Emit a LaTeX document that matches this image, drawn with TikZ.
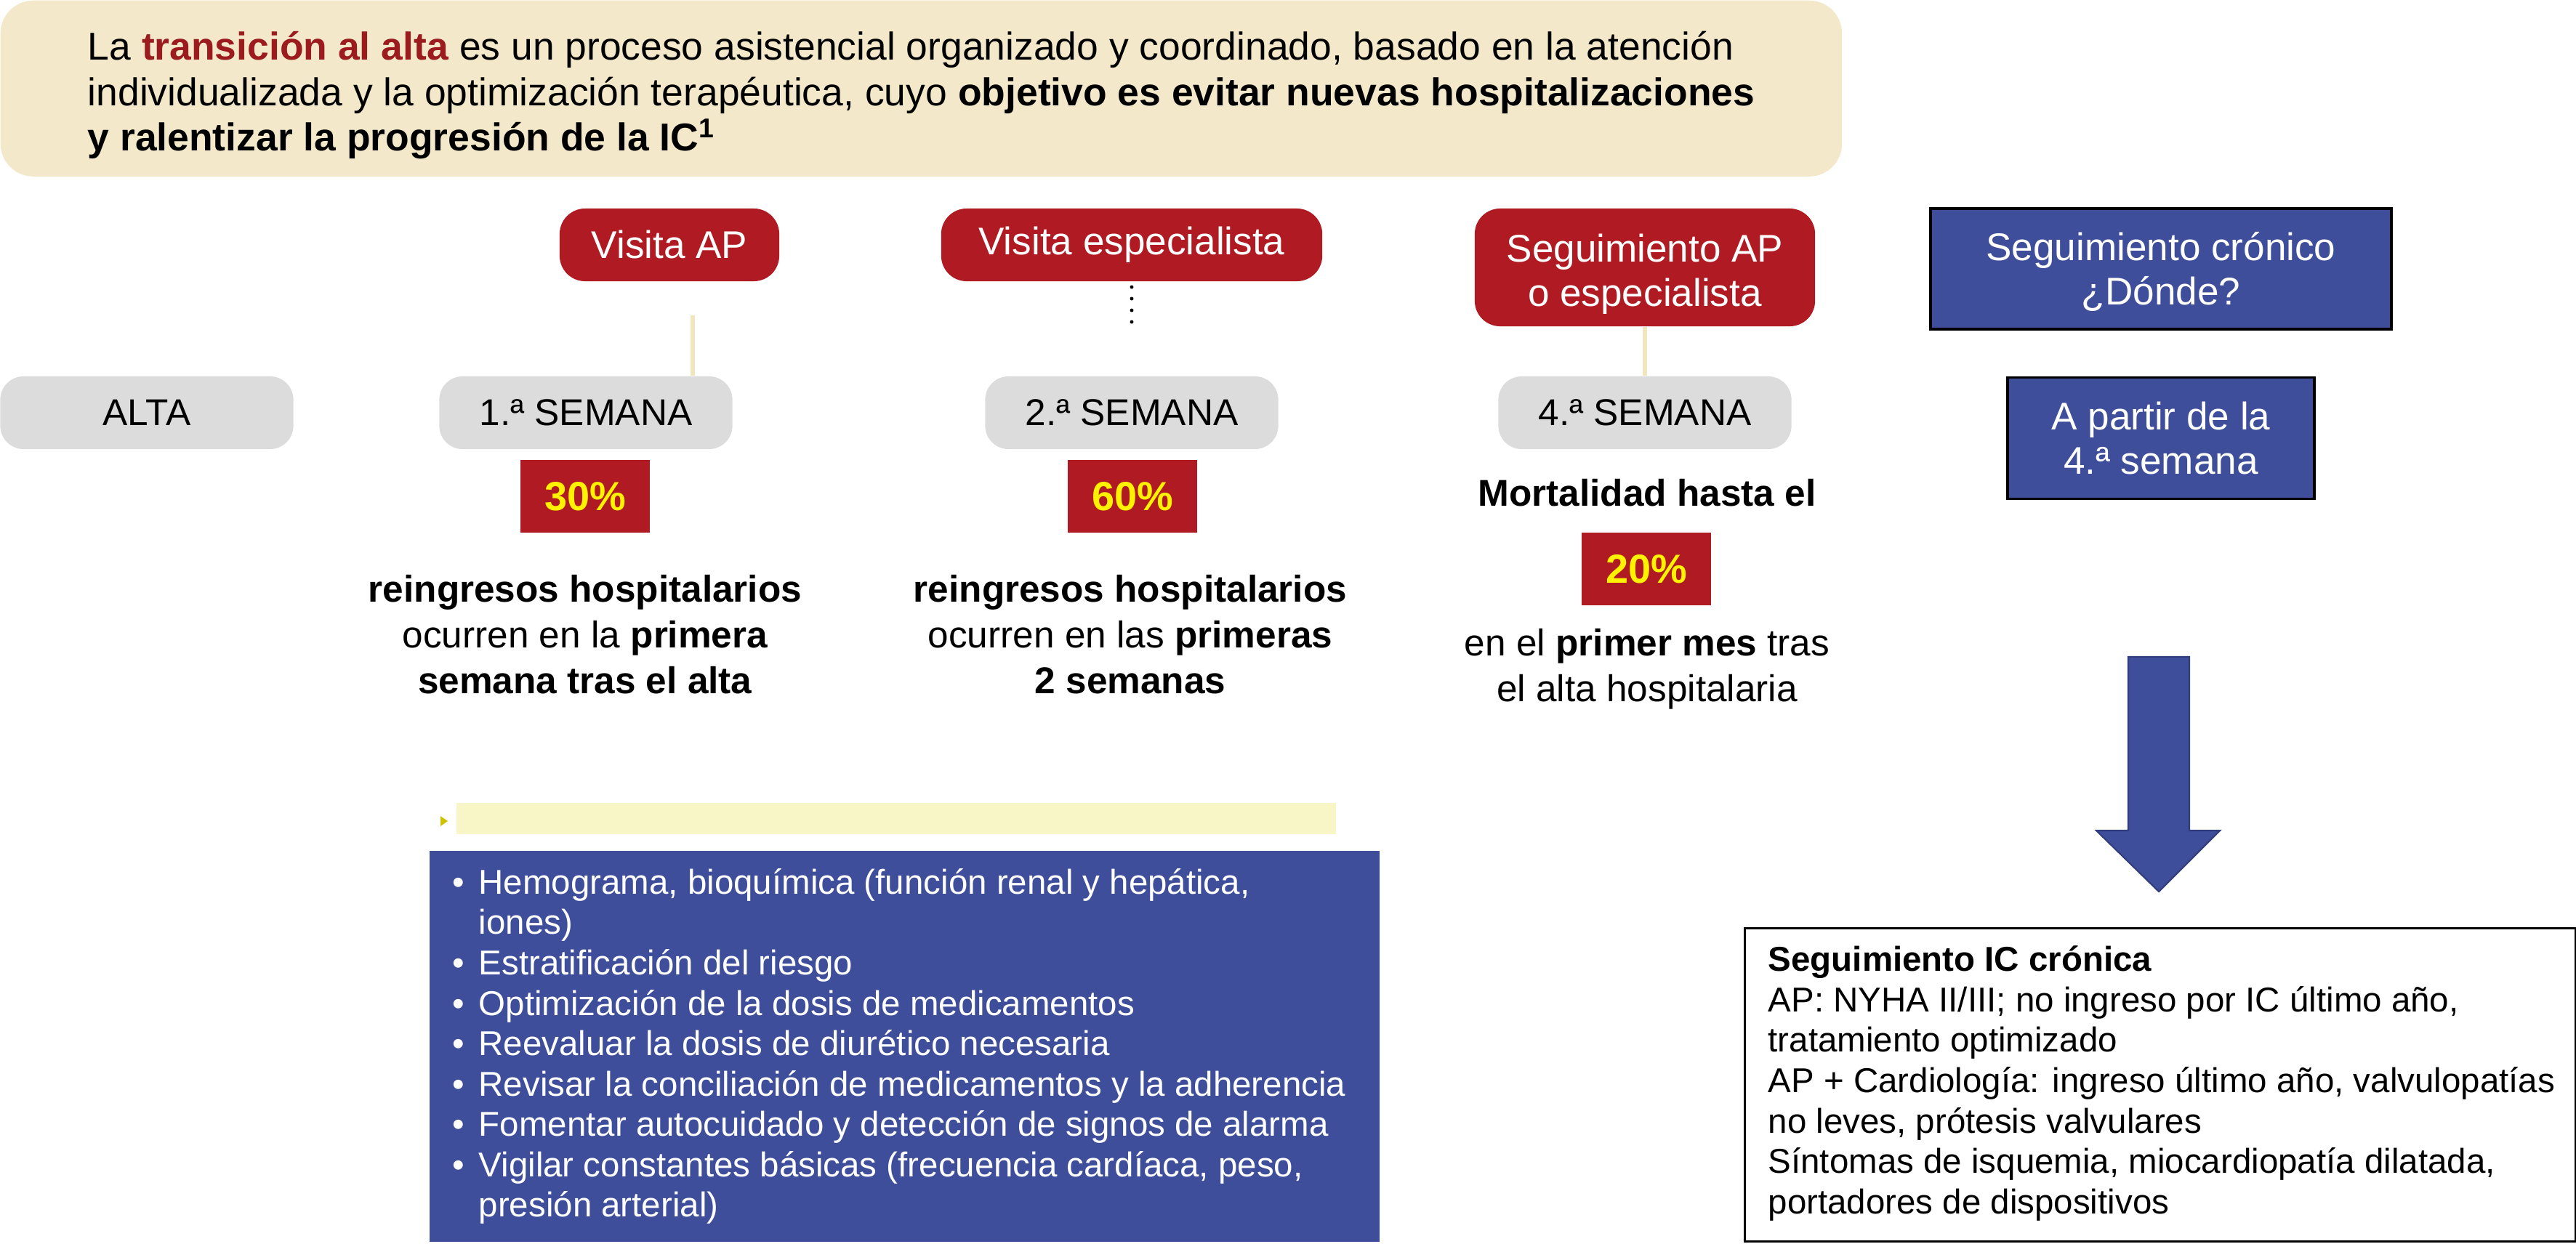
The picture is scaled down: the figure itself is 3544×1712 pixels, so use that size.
\documentclass[tikz,border=0pt]{standalone}
\usepackage{fontspec}
\setmainfont{Liberation Sans}
\usetikzlibrary{calc}
\definecolor{boxred}{HTML}{B01A22}
\definecolor{darkred}{HTML}{9B1B1F}
\definecolor{pillgray}{HTML}{DCDCDC}
\definecolor{banner}{HTML}{F3E9CA}
\definecolor{connbeige}{HTML}{F2E6BE}
\definecolor{boxblue}{HTML}{3F4E9A}
\definecolor{pctyellow}{HTML}{FFF200}
\definecolor{paleyellow}{HTML}{F8F6C6}
\tikzset{
  pill/.style={rectangle, rounded corners=0.32cm, fill=pillgray, inner sep=0pt,
    minimum width=4.03cm, minimum height=1.0cm, font=\fontsize{14.6}{17.4}\selectfont},
  redbox/.style={rectangle, rounded corners=0.35cm, fill=boxred, text=white, inner sep=0pt,
    minimum height=1.0cm, align=center, font=\fontsize{15.1}{17.4}\selectfont},
  boxtext/.style={text=white, inner sep=0pt, align=center, font=\fontsize{15.1}{17.4}\selectfont},
  bluebox/.style={rectangle, fill=boxblue, draw=black, line width=1.1pt, text=white, inner sep=0pt,
    align=center, font=\fontsize{15.1}{17.4}\selectfont},
  pctbox/.style={rectangle, fill=boxred, text=pctyellow, inner sep=0pt,
    minimum width=1.78cm, minimum height=0.99cm, font=\fontsize{15.9}{18}\selectfont\bfseries},
  desc/.style={align=center, inner sep=0pt, font=\fontsize{14.6}{17.9}\selectfont},
  conn/.style={draw=connbeige, line width=1.7pt},
}
\begin{document}
\begin{tikzpicture}[x=0.01cm,y=-0.01cm]
\useasboundingbox (0,0) rectangle (3544,1712);

% banner
\node[rectangle, rounded corners=0.45cm, fill=banner, minimum width=25.32cm, minimum height=2.42cm,
  anchor=north west, inner sep=0pt] (banner) at (0,0) {};
\node[anchor=west, align=left, inner sep=0pt, font=\fontsize{15.2}{17.9}\selectfont] (bannertxt) at (120,131)
 {La \textcolor{darkred}{\textbf{transición al alta}} es un proceso asistencial organizado y coordinado, basado en la atención\\
  individualizada y la optimización terapéutica, cuyo \textbf{objetivo es evitar nuevas hospitalizaciones}\\
  \textbf{y ralentizar la progresión de la IC\textsuperscript{1}}};

% pills
\node[pill] (alta) at (202,568) {ALTA};
\node[pill] (w1) at (806,568) {1.ª SEMANA};
\node[pill] (w2) at (1557,568) {2.ª SEMANA};
\node[pill] (w4) at (2263,568) {4.ª SEMANA};

% red boxes
\node[redbox, minimum width=3.02cm] (va) at (921,337) {Visita AP};
\node[redbox, minimum width=5.24cm] (ve) at (1557,337) {Visita especialista};
\node[redbox, minimum width=4.68cm, minimum height=1.62cm] (sa) at (2263,368) {};
\node[boxtext] (satxt) at (2263,377) {Seguimiento AP\\o especialista};

% blue boxes
\node[bluebox, minimum width=6.34cm, minimum height=1.66cm] (sc) at (2973,370) {};
\node[boxtext] (sctxt) at (2973,374) {Seguimiento crónico\\¿Dónde?};
\node[bluebox, minimum width=4.22cm, minimum height=1.67cm] (ap) at (2973,603) {A partir de la\\4.ª semana};

% connectors
\coordinate (c1) at (953,434);
\draw[conn] (c1) -- (c1 |- w1.north);
\draw[conn] (sa.south) -- (w4.north);
\coordinate (d1) at (1557,395);
\draw[line width=1.4pt, line cap=round, dash pattern=on 0pt off 0.16cm] (d1) -- ($(d1)+(0,52)$);

% percent boxes
\node[pctbox] (p30) at (805,683) {30\%};
\node[pctbox] (p60) at (1558,683) {60\%};
\node[pctbox] (p20) at (2265,783) {20\%};

% descriptions
\node[desc] (t1) at (805,873) {\textbf{reingresos hospitalarios}\\ocurren en la \textbf{primera}\\\textbf{semana tras el alta}};
\node[desc] (t2) at (1555,873) {\textbf{reingresos hospitalarios}\\ocurren en las \textbf{primeras}\\\textbf{2 semanas}};
\node[desc] (t3) at (2266,678) {\textbf{Mortalidad hasta el}};
\node[desc] (t4) at (2266,921) {en el \textbf{primer mes} tras\\el alta hospitalaria};

% yellow bar
\fill[paleyellow] (628,1105) rectangle (1838,1148);
\fill[pctyellow!80!black] (606,1123) -- (616,1130) -- (606,1137) -- cycle;

% list box
\node[rectangle, fill=boxblue, anchor=north west, minimum width=13.07cm, minimum height=5.38cm, inner sep=0pt] (list) at (590,1170) {};
\node[anchor=west, align=left, text=white, inner sep=0pt, font=\fontsize{13.5}{15.8}\selectfont] (listtxt) at (622,1440)
 {\makebox[0.36cm][l]{•}Hemograma, bioquímica (función renal y hepática,\\
  \hspace*{0.36cm}iones)\\
  \makebox[0.36cm][l]{•}Estratificación del riesgo\\
  \makebox[0.36cm][l]{•}Optimización de la dosis de medicamentos\\
  \makebox[0.36cm][l]{•}Reevaluar la dosis de diurético necesaria\\
  \makebox[0.36cm][l]{•}Revisar la conciliación de medicamentos y la adherencia\\
  \makebox[0.36cm][l]{•}Fomentar autocuidado y detección de signos de alarma\\
  \makebox[0.36cm][l]{•}Vigilar constantes básicas (frecuencia cardíaca, peso,\\
  \hspace*{0.36cm}presión arterial)};

% big arrow
\draw[fill=boxblue, draw=boxblue!80!black, line width=0.6pt]
  (2928,904) -- (3012,904) -- (3012,1143) -- (3054,1143) -- (2970,1227) -- (2884,1143) -- (2928,1143) -- cycle;

% chronic box
\node[rectangle, draw=black, line width=0.9pt, fill=white, anchor=north west, minimum width=11.42cm, minimum height=4.31cm, inner sep=0pt] (cb) at (2399,1276) {};
\node[anchor=west, align=left, inner sep=0pt, font=\fontsize{13.5}{15.8}\selectfont] (cbtxt) at (2432,1491)
 {\textbf{Seguimiento IC crónica}\\
  AP: NYHA II/III; no ingreso por IC último año,\\
  tratamiento optimizado\\
  AP + Cardiología: ingreso último año, valvulopatías\\
  no leves, prótesis valvulares\\
  Síntomas de isquemia, miocardiopatía dilatada,\\
  portadores de dispositivos};
\end{tikzpicture}
\end{document}
